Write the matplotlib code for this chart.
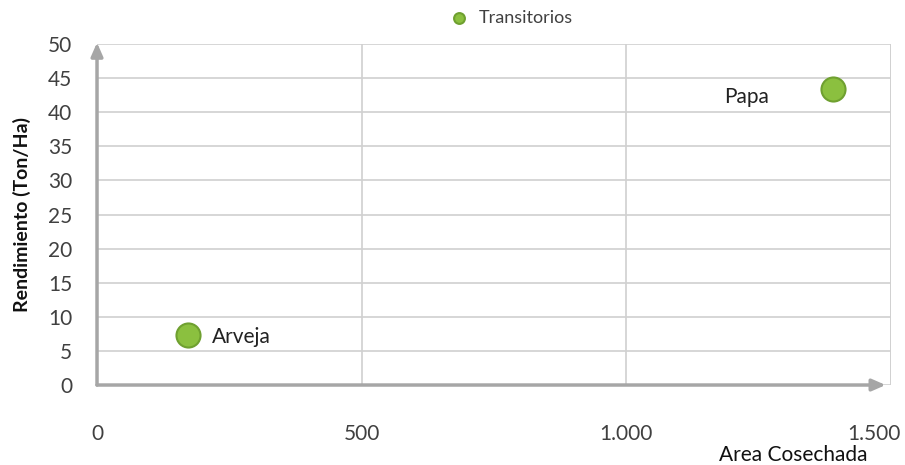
import matplotlib
matplotlib.use("Agg")
import matplotlib.pyplot as plt
from matplotlib.ticker import FuncFormatter
from matplotlib.transforms import ScaledTranslation

# Cultivos transitorios: área cosechada vs rendimiento
cultivos = ["Arveja", "Papa"]
area_cosechada = [172, 1390]
rendimiento = [7.3, 43.4]
serie = "Transitorios"

x_ticks = [0, 500, 1000, 1500]
y_ticks = list(range(0, 55, 5))

plt.rcParams['font.family'] = ['Lato', 'DejaVu Sans']

fig = plt.figure(figsize=(9.05, 4.65), dpi=100)
ax = fig.add_axes([0.1072, 0.172, 0.8773, 0.7334])

grid_c = "#D0D0D0"
axis_c = "#A6A6A6"
text_c = "#404040"

ax.set_xlim(0, 1500)
ax.set_ylim(0, 50)
ax.set_xticks(x_ticks)
ax.set_yticks(y_ticks)
ax.xaxis.set_major_formatter(FuncFormatter(lambda v, p: f"{int(v):,}".replace(",", ".")))
ax.grid(True, color=grid_c, linewidth=1.2)
ax.set_axisbelow(True)

for s in ["top", "right", "left", "bottom"]:
    ax.spines[s].set_visible(False)

# right border line at the last x gridline
ax.axvline(1500, color=grid_c, linewidth=1.2, zorder=0)

# axes drawn as arrows
ax.annotate("", xy=(1490, 0), xytext=(0, 0),
            arrowprops=dict(arrowstyle="-|>,head_length=0.8,head_width=0.35",
                            color=axis_c, lw=2.5, shrinkA=0, shrinkB=0),
            annotation_clip=False, zorder=3)
ax.annotate("", xy=(0, 50.2), xytext=(0, 0),
            arrowprops=dict(arrowstyle="-|>,head_length=0.8,head_width=0.35",
                            color=axis_c, lw=2.5, shrinkA=0, shrinkB=0),
            annotation_clip=False, zorder=3)

ax.tick_params(axis="both", length=0, labelsize=15, labelcolor=text_c)
ax.tick_params(axis="x", pad=28)
ax.tick_params(axis="y", pad=18)

# keep the last x tick label inside the figure
fig.canvas.draw()
last = ax.get_xticklabels()[-1]
last.set_horizontalalignment("right")
last.set_transform(last.get_transform() + ScaledTranslation(10 / 100, 0, fig.dpi_scale_trans))

ax.scatter(area_cosechada, rendimiento, s=300, color="#8BC03F",
           edgecolor="#6FA030", linewidth=1.5, zorder=5, label=serie)

ax.annotate(cultivos[0], (area_cosechada[0], rendimiento[0]), xytext=(17, -1),
            textcoords="offset points", ha="left", va="center",
            fontsize=15, color="#222222")
ax.annotate(cultivos[1], (area_cosechada[1], rendimiento[1]), xytext=(-46, -6),
            textcoords="offset points", ha="right", va="center",
            fontsize=15, color="#222222")

ax.set_ylabel("Rendimiento (Ton/Ha)", fontsize=14, fontweight="bold", color="#111111", labelpad=12)
ax.set_xlabel("Area Cosechada", fontsize=15, color="#111111")
ax.xaxis.set_label_coords(0.971, -0.205)
ax.xaxis.label.set_ha("right")
ax.xaxis.label.set_va("center")

fig.legend(handles=[ax.collections[0]], labels=[serie], loc="center",
           bbox_to_anchor=(0.56, 0.962), frameon=False, fontsize=13,
           markerscale=0.45, handletextpad=0.1, labelcolor=text_c)

fig.savefig("out.png", dpi=100)
